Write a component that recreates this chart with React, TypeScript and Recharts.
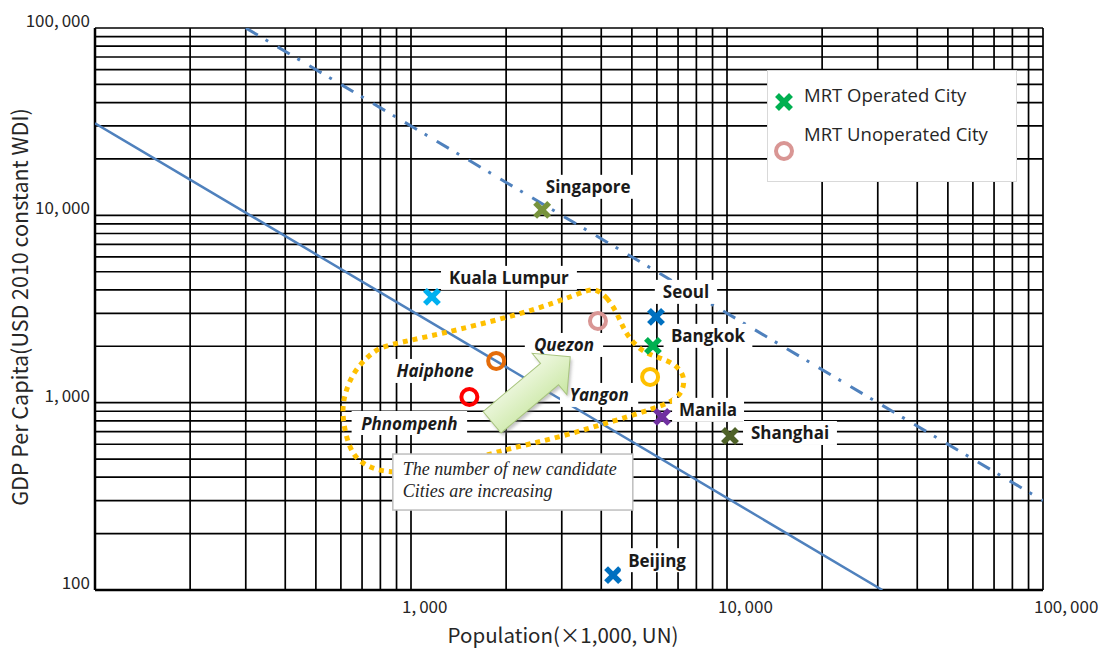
import React from 'react';
import { ScatterChart, Scatter, XAxis, YAxis, CartesianGrid, Legend, Label } from 'recharts';

// ---------- axis ticks ----------
const xTicks = [100, 200, 300, 400, 500, 600, 700, 800, 900, 1000, 2000, 3000, 4000, 5000, 6000, 7000, 8000, 9000, 10000, 20000, 30000, 40000, 50000, 60000, 70000, 80000, 90000, 100000];
const yTicks = [100, 200, 300, 400, 500, 600, 700, 800, 900, 1000, 2000, 3000, 4000, 5000, 6000, 7000, 8000, 9000, 10000, 20000, 30000, 40000, 50000, 60000, 70000, 80000, 90000, 100000];
const xTickLabels: Record<number, string> = { 1000: '1,000', 10000: '10,000', 100000: '100,000' };
const yTickLabels: Record<number, string> = { 100: '100', 1000: '1,000', 10000: '10,000', 100000: '100,000' };

const xAxisTitle = 'Population(×1,000, UN)';
const yAxisTitle = 'GDP Per Capita(USD 2010 constant WDI)';
const legendLabels = ['MRT Operated City', 'MRT Unoperated City'];

// ---------- cities ----------
const operatedCities = ['Singapore', 'Kuala Lumpur', 'Seoul', 'Bangkok', 'Manila', 'Shanghai', 'Beijing'];
const operatedPopulation = [2600, 1165, 5960, 5830, 6230, 10220, 4360];
const operatedGdp = [10700, 3670, 2870, 2010, 840, 664, 120];

const unoperatedCities = ['Quezon', 'Haiphone', 'Yangon', 'Phnompenh'];
const unoperatedPopulation = [3905, 1860, 5710, 1530];
const unoperatedGdp = [2730, 1670, 1372, 1072];

// ---------- reference lines ----------
const solidLinePopulation = [100, 31000];
const solidLineGdp = [31000, 100];
const dashLinePopulation = [300, 100000];
const dashLineGdp = [100000, 300];

// ---------- dotted candidate loop ----------
const loopPopulation = [3822, 4173, 4487, 4722, 5041, 5502, 6138, 6845, 7364, 7257, 6697, 5790, 4826, 3878, 3027, 2381, 1912, 1537, 1148, 858, 742, 655, 618, 605, 618, 655, 726, 798, 944, 1148, 1398, 1872, 2504, 3186, 3502];
const loopGdp = [4097, 3667, 3012, 2444, 2084, 1843, 1733, 1609, 1389, 1141, 1009, 925, 839, 751, 664, 602, 552, 494, 437, 421, 448, 513, 689, 914, 1127, 1441, 1754, 1984, 2109, 2270, 2444, 2764, 3163, 3667, 3900];

// ---------- annotations ----------
const arrowPopulation = [2400];
const arrowGdp = [1176];
const notePopulation = [2100];
const noteGdp = [377];
const noteLines = ['The number of new candidate', 'Cities are increasing'];

// ---------- styling (kept apart from data) ----------
const cityColors: Record<string, string> = {
  Singapore: '#77933C',
  'Kuala Lumpur': '#00B0F0',
  Seoul: '#0070C0',
  Bangkok: '#00B050',
  Manila: '#7030A0',
  Shanghai: '#4F6228',
  Beijing: '#0070C0',
  Quezon: '#D99694',
  Haiphone: '#E46C0A',
  Yangon: '#FFC000',
  Phnompenh: '#FF0000',
};
const labelOffsets: Record<string, [number, number]> = {
  Singapore: [46, -23],
  'Kuala Lumpur': [77, -19],
  Seoul: [30, -25],
  Bangkok: [55, -10],
  Manila: [46, -7],
  Shanghai: [60, -3],
  Beijing: [44, -15],
  Quezon: [-34, 24],
  Haiphone: [-61, 10],
  Yangon: [-51, 18],
  Phnompenh: [-60, 26],
};

const zip = (xs: number[], ys: number[], names?: string[]) =>
  xs.map((x, i) => ({ population: x, gdp: ys[i], name: names ? names[i] : '' }));

const operatedData = zip(operatedPopulation, operatedGdp, operatedCities);
const unoperatedData = zip(unoperatedPopulation, unoperatedGdp, unoperatedCities);
const solidLineData = zip(solidLinePopulation, solidLineGdp);
const dashLineData = zip(dashLinePopulation, dashLineGdp);
const loopData = zip(loopPopulation, loopGdp);
const arrowData = zip(arrowPopulation, arrowGdp);
const noteData = zip(notePopulation, noteGdp);

const LABEL_FONT = "'Open Sans', 'Noto Sans', sans-serif";
const AXIS_FONT = "'Noto Sans CJK JP', 'Noto Sans', sans-serif";

function textWidth(s: string, size: number) {
  let w = 0;
  for (const ch of s) {
    if ('ilj.,\''.includes(ch)) w += 0.3;
    else if ('frt '.includes(ch)) w += 0.42;
    else if ('mwMW'.includes(ch)) w += 0.95;
    else if (ch >= 'A' && ch <= 'Z') w += 0.68;
    else w += 0.62;
  }
  return w * size;
}

const NumText = ({ label }: { label: string }) => {
  const idx = label.indexOf(',');
  if (idx < 0) return <>{label}</>;
  return (
    <>
      {label.slice(0, idx + 1)}
      <tspan dx={3}>{label.slice(idx + 1)}</tspan>
    </>
  );
};

const XTick = (props: any) => {
  const { x, y, payload } = props;
  const label = xTickLabels[payload.value];
  if (!label) return <g />;
  return (
    <text x={x - 9} y={y + 21} textAnchor="start" fontFamily={AXIS_FONT} fontSize={17} fill="#262626">
      <NumText label={label} />
    </text>
  );
};

const YTick = (props: any) => {
  const { x, y, payload } = props;
  const label = yTickLabels[payload.value];
  if (!label) return <g />;
  return (
    <text x={x} y={y - 1} textAnchor="end" fontFamily={AXIS_FONT} fontSize={17} fill="#262626">
      <NumText label={label} />
    </text>
  );
};

const CityLabel = ({ cx, cy, name, italic }: { cx: number; cy: number; name: string; italic: boolean }) => {
  const [dx, dy] = labelOffsets[name] || [0, 0];
  const w = textWidth(name, 17) + 14;
  const tx = cx + dx;
  const ty = cy + dy;
  return (
    <g>
      <rect x={tx - w / 2} y={ty - 12} width={w} height={24} fill="#ffffff" />
      <text
        x={tx}
        y={ty}
        textAnchor="middle"
        dominantBaseline="central"
        fontFamily={LABEL_FONT}
        fontWeight={700}
        fontStyle={italic ? 'italic' : 'normal'}
        fontSize={17}
        fill="#1a1a1a"
      >
        {name}
      </text>
    </g>
  );
};

const XMark = ({ cx, cy, color, s = 7 }: { cx: number; cy: number; color: string; s?: number }) => (
  <g>
    <line x1={cx - s} y1={cy - s} x2={cx + s} y2={cy + s} stroke={color} strokeWidth={5.5} />
    <line x1={cx - s} y1={cy + s} x2={cx + s} y2={cy - s} stroke={color} strokeWidth={5.5} />
  </g>
);

const OperatedShape = (props: any) => {
  const { cx, cy, payload } = props;
  return (
    <g>
      <XMark cx={cx} cy={cy} color={cityColors[payload.name]} />
      <CityLabel cx={cx} cy={cy} name={payload.name} italic={false} />
    </g>
  );
};

const UnoperatedShape = (props: any) => {
  const { cx, cy, payload } = props;
  return (
    <g>
      <circle cx={cx} cy={cy} r={8} fill="none" stroke={cityColors[payload.name]} strokeWidth={4} />
      <CityLabel cx={cx} cy={cy} name={payload.name} italic={true} />
    </g>
  );
};

const NoShape = () => <g />;

const ArrowShape = (props: any) => {
  const { cx, cy } = props;
  const pts = '-51,-14 24,-14 24,-27 51,0 24,27 24,14 -51,14';
  return (
    <g>
      <defs>
        <linearGradient id="arrowGrad" x1="0" y1="0" x2="0" y2="1">
          <stop offset="0%" stopColor="#F4FAEA" />
          <stop offset="100%" stopColor="#C9E7A2" />
        </linearGradient>
        <filter id="arrowShadow" x="-20%" y="-20%" width="140%" height="140%">
          <feGaussianBlur stdDeviation="1.5" />
        </filter>
      </defs>
      <g transform={`translate(${cx + 2},${cy + 3}) rotate(-40)`}>
        <polygon points={pts} fill="#808080" opacity={0.45} filter="url(#arrowShadow)" />
      </g>
      <g transform={`translate(${cx},${cy}) rotate(-40)`}>
        <polygon points={pts} fill="url(#arrowGrad)" stroke="#A8C47E" strokeWidth={1} />
      </g>
    </g>
  );
};

const NoteShape = (props: any) => {
  const { cx, cy } = props;
  return (
    <g>
      <rect x={cx - 120} y={cy - 28} width={240} height={56} fill="#ffffff" stroke="#BFBFBF" strokeWidth={1.5} />
      {noteLines.map((t, i) => (
        <text
          key={t}
          x={cx - 110}
          y={cy - 7 + i * 22}
          fontFamily="'Liberation Serif', 'DejaVu Serif', serif"
          fontStyle="italic"
          fontSize={18}
          fill="#262626"
        >
          {t}
        </text>
      ))}
    </g>
  );
};

const LegendContent = () => (
  <div
    style={{
      width: 250,
      height: 112,
      boxSizing: 'border-box',
      border: '1px solid #D9D9D9',
      background: '#ffffff',
    }}
  >
    <svg width={248} height={110} style={{ display: 'block' }}>
      <XMark cx={16} cy={31} color="#00B050" />
      <text x={36} y={31} fontFamily={LABEL_FONT} fontSize={18.5} fill="#262626">
        {legendLabels[0]}
      </text>
      <circle cx={16} cy={80} r={8} fill="none" stroke="#D99694" strokeWidth={4} />
      <text x={36} y={70} fontFamily={LABEL_FONT} fontSize={18.5} fill="#262626">
        {legendLabels[1]}
      </text>
    </svg>
  </div>
);

export default function App() {
  return (
    <div style={{ position: 'absolute', left: 0, top: 0, width: 1105, height: 650, overflow: 'hidden', background: '#ffffff' }}>
      <ScatterChart width={1105} height={650} margin={{ top: 28, right: 62, bottom: 0, left: 0 }}>
        <CartesianGrid stroke="#000000" strokeWidth={1.7} fill="#ffffff" />
        <XAxis
          type="number"
          dataKey="population"
          scale="log"
          domain={[100, 100000]}
          allowDataOverflow
          ticks={xTicks}
          interval={0}
          tick={<XTick />}
          tickLine={false}
          tickSize={0}
          axisLine={{ stroke: '#000000', strokeWidth: 2.5 }}
          height={60}
        >
          <Label
            content={(p: any) => {
              const vb = p.viewBox || { x: 95, y: 590, width: 948 };
              return (
                <text
                  x={vb.x + vb.width / 2 - 6}
                  y={vb.y + 53}
                  textAnchor="middle"
                  fontFamily={AXIS_FONT}
                  fontSize={20.5}
                  fill="#262626"
                >
                  {xAxisTitle}
                </text>
              );
            }}
          />
        </XAxis>
        <YAxis
          type="number"
          dataKey="gdp"
          scale="log"
          domain={[100, 100000]}
          allowDataOverflow
          ticks={yTicks}
          interval={0}
          tick={<YTick />}
          tickLine={false}
          tickSize={0}
          tickMargin={5}
          axisLine={{ stroke: '#000000', strokeWidth: 2.5 }}
          width={95}
        >
          <Label
            content={(p: any) => {
              const vb = p.viewBox || { x: 0, y: 28, height: 562 };
              const cx = 18;
              const cy = vb.y + vb.height / 2 - 2;
              return (
                <text
                  x={cx}
                  y={cy}
                  transform={`rotate(-90, ${cx}, ${cy})`}
                  textAnchor="middle"
                  dominantBaseline="central"
                  fontFamily={AXIS_FONT}
                  fontSize={21.5}
                  fill="#262626"
                >
                  {yAxisTitle}
                </text>
              );
            }}
          />
        </YAxis>
        <Legend
          layout="horizontal"
          verticalAlign="middle"
          align="center"
          wrapperStyle={{ left: 767, top: 70, width: 250, height: 112 }}
          content={LegendContent}
        />
        <Scatter
          name="solid"
          data={solidLineData}
          line={{ stroke: '#4F81BD', strokeWidth: 2.5 }}
          lineType="joint"
          shape={NoShape}
          legendType="none"
          isAnimationActive={false}
        />
        <Scatter
          name="dash"
          data={dashLineData}
          line={{ stroke: '#4F81BD', strokeWidth: 3, strokeDasharray: '14 9 3 11' }}
          lineType="joint"
          shape={NoShape}
          legendType="none"
          isAnimationActive={false}
        />
        <Scatter
          name="loop"
          data={loopData}
          line={{ stroke: '#FFC000', strokeWidth: 5, strokeDasharray: '5 5' }}
          lineType="joint"
          lineJointType="basisClosed"
          shape={NoShape}
          legendType="none"
          isAnimationActive={false}
        />
        <Scatter
          name={legendLabels[0]}
          data={operatedData}
          shape={OperatedShape}
          fill="#00B050"
          isAnimationActive={false}
        />
        <Scatter
          name={legendLabels[1]}
          data={unoperatedData}
          shape={UnoperatedShape}
          fill="#D99694"
          isAnimationActive={false}
        />
        <Scatter name="arrow" data={arrowData} shape={ArrowShape} legendType="none" isAnimationActive={false} />
        <Scatter name="note" data={noteData} shape={NoteShape} legendType="none" isAnimationActive={false} />
      </ScatterChart>
    </div>
  );
}
